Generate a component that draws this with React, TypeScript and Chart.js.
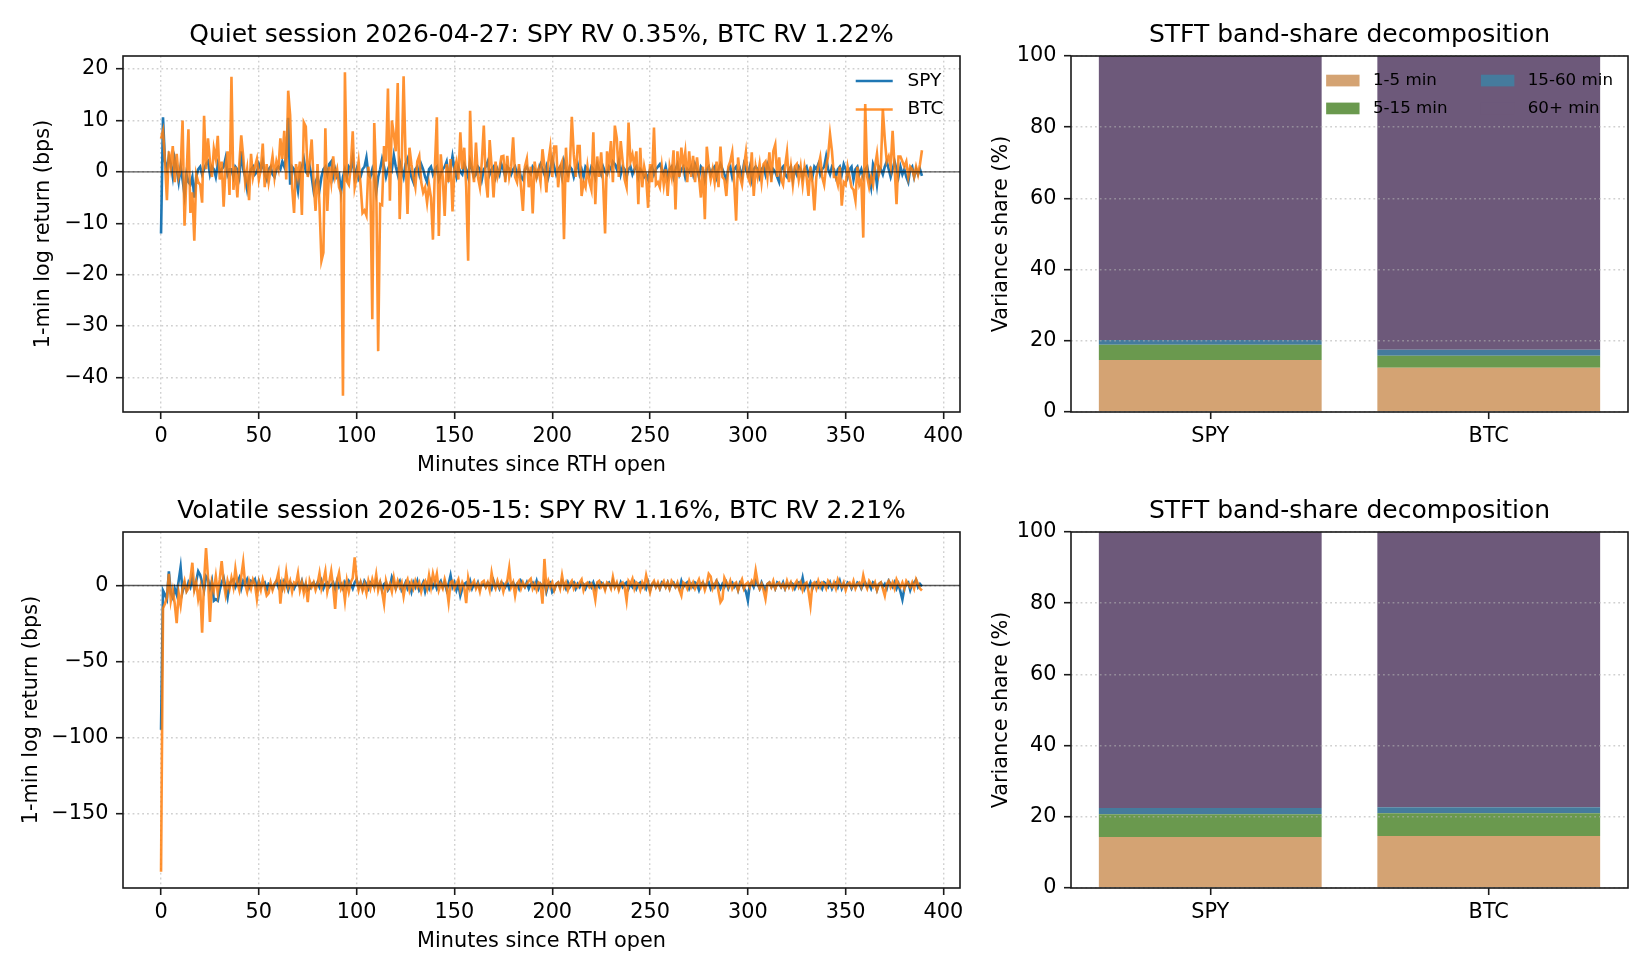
import React, { useEffect, useRef } from "react";
import { Chart, registerables } from "chart.js";

Chart.register(...registerables);

const FONT = "'DejaVu Sans', 'Liberation Sans', sans-serif";

// 1-minute log returns (bps), minute 0..389
const quietSpy = [
  -12, 10.6, 2, 0.5, 3, 1.5, -1, 2.5, 0.5, -2, 1, -1.5, -4.5, -0.5, -2, -2.5, -1, -5, -1, 0.5,
  1, -0.5, 0.5, 1.5, 2, -0.5, 1, 0.5, -1, 1.5, 0, 0.5, 1, 2.7, -0.5, 0.5, 0.5, -1, 1, 0.5,
  -1, 4, 0.5, -1, -3.4, -1, 0.5, 1, -0.5, 0, 1.5, 0.5, 2, -0.5, -1.5, 0.5, 1, -0.5, -1, 0.5,
  1, 0.5, 2, 1, 3, 10.5, -2.5, 1, 0.5, -1.5, -3.7, 0, 1, 2.5, 0, -0.5, 1, -1, -3.7, -2,
  -1, -3.5, -1, 0.5, 1, -0.5, 1.5, 2, -1, 0.5, -1, -0.5, -4, -1, 0.5, -1, 1, 0.5, 2.8, -1,
  0.5, -1.5, -1, 0.5, 1, 2.8, -0.5, -1, 0.5, -1, -4, -1, 0.5, 2.5, 1, -1, 0.5, 1.5, 0.5, 3.2,
  1, -0.5, 2, 0.5, -1, 1.5, 2.5, 0.5, -1, -2, 0.5, 1, -0.5, 1.5, 0.5, -1, -2, 0.5, 1, -0.5,
  0.5, 1, -1.5, -0.5, 0.5, 1, 2, -1, 0.5, 3, 0.5, -1, 1, 0, -0.5, 1.5, 0.5, -1, 2, 0.5,
  -1, -0.5, 1, 0.5, -1.5, 0.5, 1, 2, -0.5, 0.5, 1, -1, 0.5, -0.5, 1.5, 0.5, -1, 1, 0.5, -0.5,
  0.5, 1, -0.5, 0.5, -1, -1.5, 0.5, 1, 0, -0.5, 1, 0.5, -1, 0.5, 1.5, 0.5, -0.5, 1, -1, 0.5,
  2.5, 1, -0.5, 0.5, 1, -1, 2, 0.5, -0.5, 1, 0.5, -1, 0.5, 1.5, -0.5, 0.5, -1, 1, 0.5, -0.5,
  1, 0.5, -1, 1.5, 0.5, -0.5, 1, 0, -0.5, 1, 0.5, 2, 1.5, 0.5, 2, -0.5, 1, 0.5, -1, 0.5,
  1, -0.5, 0.5, 1, -1, 0.5, 0, -1, -0.5, -1.5, 0.5, 1, -0.5, 0.5, 1, 1.5, 0.5, -0.5, 1, -1,
  0.5, 1, -1, 0.5, 1.5, -0.5, 0.5, 1, -1, 0.5, 0, 1, -0.5, 1.5, 0.5, -1, 1, 0.5, -1.5, 0.5,
  1, -0.5, 0.5, 1, -1, 0.5, 1.5, 0.5, -0.5, -1.5, 0.5, 1, -1, 0.5, 1, -0.5, 0.5, -1, 1.5, 0.5,
  -0.5, 1, -1.5, 0.5, 1, 0.5, -1, 0.5, 1, -0.5, 1.5, 0.5, -1, 0.5, 0, -1, -2, 0.5, 1, -0.5,
  -1, 0.5, 1, -1.5, 0.5, -0.5, 1, 0.5, -1, 0.5, 1, -0.5, 0.5, -1, 1, 0.5, 1.5, -0.5, 0.5, 1,
  3, 0.5, -0.5, 1, 0.5, -1, 0.5, 1, -0.5, 1.5, 0.5, -1, 0.5, 1, -1.5, 0.5, 1, -0.5, 0.5, -1,
  0.5, 1, -1, -3, 1.5, 0.5, -2.5, 1, 0.5, -0.5, 1, 2, 0.5, -1, 0.5, 2, 0.5, -1, 1, -0.5,
  0.5, -1, -2, 0.5, 1, -1, 0.5, -0.5, 0.5, -0.8,
];

const quietBtc = [
  6.5, 8, 2, -5.5, 4, 1, 5, -2, 3.5, -1, 0.5, 10, -10.5, -1, 8.3, -8, -4, -13.4, -0.5, -2,
  -2.5, -6, 10.9, 0.5, 6.5, 2, -1, 4.5, 2.5, 7, -1.5, 2, -6.8, 1, 4, -4.5, 18.5, -3.5, 1, -5,
  1.5, 7.1, 3, -2, 0.5, -5.5, 3.5, -1, 1, 2.5, -1.5, 0.5, 5.5, -3, 1.5, -2, 0.5, 3, -1, 2,
  0.5, 6.5, 2.5, 8, -1.5, 15.8, 11, -3, -8, 1.5, -1, 2, -8.4, 9.6, 8.8, -1, 2, 6.3, -2, -7.6,
  1.5, -6.5, -17.3, -15.7, 8.5, -7.6, 1, -2, 3, -1, 0.5, -3, -4, -43.6, 19.4, -1.8, -2.5, 1, 7.9, -3,
  -1, 2, -2.5, -8, -7.5, -8.5, 1, -2, -28.7, 9.5, -2, -34.9, -6.3, -6.5, 5, 2, 16.2, -5.6, 10, 7.3,
  4, 17.3, -9.2, 1, 18.6, 3, -8.2, 4.7, 1.5, -1, -3, 2, 3.1, -2, -4, -3, -6, -2.5, -5, -13.2,
  1, 10.6, -12.5, 3.4, -1, -8.6, 1.5, -2, 2.5, -7.7, 0.5, 2, -1.5, 7.7, 0.5, 4.7, -3, -17.3, 11.9, 1,
  -2, 5.7, -1, -3, 2, 9, -1.5, -5, 6.2, 1, -5, 2, -1, 0.5, 3, 3.1, -2, 3.1, -1, 1,
  6.7, -1, -2, 1.5, -3, -7.6, 1, 2.5, -3, 1, -8.1, 2, -1, 0.5, -2, 4.4, 1, -4, 2, 4.7,
  -1, 4.9, 4.9, -3, 1, 2, -13.1, 4.7, -2, 1, 10.7, 3.4, -1, 5, 5, -4.7, -2, -3, 1, -2,
  -3.5, 7.7, -6.3, 3, -1, 3.8, -2, -12, 4, 1, 6, -2, 9, 6.5, -1, 6, 2, -1.5, -3, 9.6,
  2, 3.4, 1, 4, -6.3, 4.7, -3, 1, -1, -7, 1.5, -2, 8.6, -2.5, -2, -3, 1, -2.5, 0.5, -4.7,
  1, -1, 4.2, -7.3, 4, -1, 4.7, 1, 3.8, -2, 4, -1, 3.1, -2, 2.8, -1, -5, 1, -9.2, 4.9,
  1, -1.5, 0.5, -2, 2, -3, 4.9, -1, -1.5, -4.7, 1, 2, 3.8, -2, -9.5, 2.8, -1, -2.5, 1, 3.8,
  -1, -2, 3.8, -4.7, 1, -1, 1.5, -2, 1.5, 2, -1, 3.8, -2, 4, 5.3, -1, 2.8, -1.5, -2.5, 1,
  3.8, -2, 1, -2.5, 1, 1.5, -1.5, 1, -2.5, 1, -1, -4.7, 1, -2, -7.5, -1, 1, 2.8, -1, -2.5,
  1, 3, 7.3, 4, -1, -1, -2.5, 1, -6.6, -2, -2.5, 1, -1, -3, -3.5, -5.6, 1, -2.5, -1.5, -12.8,
  13.2, -1, -3, -1, -2.5, 1, 3.5, -0.5, 1, 12.2, 6.4, 2, 3, 1, 8, 1, -6.3, 3, 3, 2,
  1, 2, -1, 1, 0.5, -1, 1, -0.5, 1.5, 4.2,
];

const volatileSpy = [
  -95, -3.3, -6, -9, 9.4, -5, -8, -2, -6, 3, 12, -4, 1, -3, 2, -1, 5, -2, 3, 9.4,
  7, 2, -3, 6, 4, -2, 3, -10, -9, -10, -3, 2, 5, -2, -8, 1, 3, 4, -1, 2,
  5, -2, 3, 1, 4, -1, 3, 2, 4, -2, 3, -1, 1, 2, -3, 1, 0, -2, 1, 3,
  -1, 2, -2, 3, 1, -3, 2, 0.5, -2, 1, 2, -1, 3, -2, 1, -3, -2, 1, 2, -1,
  2, -1, 3, -2, 1, 2, -1, 0.5, 2, -2, 3, -1, 1, -2, 2, -1, 3, 1, -2, 2,
  4, -1, 2, -2, 3, 1, -2, 2, 0.5, -1, 3, -1, 2, -3, 1, 2, -3, -1, 5.5, 2,
  -2, 1, 3, -3, -1, 2, -2, 1, -4, 2, -1, 3, -3, -1, 2, -4, 1, -2, 3, -1,
  2, -2, 1, 3, -1, 2, -3, 1, 6.6, -1, 2, -3, 1, -6.6, -2, 1, 2, -1, 3, -2,
  1, -1, 2, -2, 0.5, 1, -1, 2, 1, -2, 3, -1, 1, -2, 2, 1, -1, 2, -2, 1,
  2, -1, 1, -2, 3, 1, -1, 2, -2, 1, 2, -1, 3, -2, 1, -1, 2, -4, 1, 2,
  -4.4, -3, 1, 2, -1, 3, 1, -2, 2, -1, 1, 2, -2, 1, -1, 2, 1, -2, 1, 2,
  -1, 2, -2, 1, -1, 2, 1, -2, 1, 2, -1, 3, -1, 1, -2, 2, -1, 1, 2, -2,
  1, -1, 2, -2, 1, 2, -1, 1, -2, 2, -3, 1, 2, -1, 1, -2, 2, 1, -1, 2,
  -2, 1, 2, -1, 1, -2, 3, -1, 1, 2, -2, 1, -1, 2, 1, -3, 1, 2, -1, 1,
  2, -2, 1, -1, 3, 1, -2, 1, -1, 2, -2, 1, 2, -1, 1, -3, 2, 1, -2, -4,
  -9.9, 1, 2, -1, 3, 1, -2, 2, -1, -3, 1, 2, -1, 1, -2, 2, 1, -1, 2, -2,
  1, -1, 2, 1, -2, 1, 2, -1, 5, -2, 1, -1, 2, -2, 1, 2, -1, 1, -2, 2,
  1, -1, 2, -2, 1, 2, -1, 3, -2, 1, -1, 2, 1, -2, 1, -1, 2, 1, -2, 1,
  2, -1, 1, -2, 2, 1, -3, 1, 2, -1, 1, -2, 3, 1, -1, 2, -2, 1, -4, -9.2,
  -2, 1, 2, -3, 1, 2, 3.7, -1, 1, -0.5,
];

const volatileBtc = [
  -188.6, -15, -12, -8, 7.7, -10, -3, -12, -24.8, -5, -13, -2, 3, -4, -2, 4, 15, -3, 2, -8.8,
  -2, -31, 3, 24.6, 5, -24, 2, -3, 6, -5, 4, 16, 2, -6, 3, -2, 5, -1, 11, 2,
  -3, 6, 15.4, 1, -4, 3, -2, 4, 1, -8.8, 2, -3, 4, -1, -6.6, -5, 2, -3, 1, 3,
  8.3, -12, 2, -2, 8.8, -1, 3, -4, 2, 1, 8, -3, 2, -5, 1, -11, 3, -1, 2, -3,
  1, 8, -2, 3, 9.4, -4, 2, 9.4, -1, -15.4, 3, 8.3, -2, 1, -9.9, 3, -4, 2, 5, 18.6,
  4, -3, 2, -3.3, 1, -5, 3, -2, 4, -1, 7.2, -3, 2, -4, -12, 3, -2, 1, -4, 5,
  -2, 3, -1, 2, -7, 1, 4, -3, 2, -2, 3, -1, 2, -4, 1, 3, -2, 6.6, -1, 7.7,
  2, 7.7, -3, 1, -2, 4, -1, -11, 2, 3, -2, 1, 4, -3, 2, -1, -11.6, 4.8, -2, 1,
  3, -2, 1, -4, 2, 3, -1, 2, -3, 8.3, 1, -2, 3, -1, 2, -4, 1, 3, 11.6, -1,
  2, -6.6, 1, 3, -2, 2, -1, 1, 3, 4.4, -2, 1, -3, 2, 1, -12, 17.5, -2, 3, -1,
  2, -3, 1, 2, -2, 6.6, -1, 2, -3, 1, 3, -2, 1, -1, 2, 4, -3, 1, 2, -1,
  1, -2, -9.2, 2, 3, -1, 1, -3, 2, 1, -2, 5.5, -1, 2, -3, 1, 2, -1, -9.9, 3,
  1, 4.4, -2, 2, 1, -3, 2, -1, 6.6, 1, -4.4, 1, 3, -1, 2, -2, 1, 3, -1, 2,
  -2, 3, 1, -1, 2, -3, -6.6, 2, 1, -2, 3, -1, 2, -2, 1, 4, -1, 2, -3, 1,
  7.7, 6, -2, 1, 3, -4, -11, -9, 5, 2, -1, 3, -2, 1, 2, -3, 1, 4, -2, 1,
  2, -1, 3, 1, 9.9, 2, -2, 1, -3, -8.8, 1, 2, -1, 3, -2, 1, 2, -1, 1, -2,
  3, -1, 2, -2, 1, 3, -1, 2, -3, 1, 2, -4, -13, 1, 2, -2, 3, -1, 2, 1,
  -2, 3, 1, -1, 2, -2, 4, 1, -1, 2, -3, 1, 2, -1, 3, -2, 1, 2, -1, 6.6,
  1, -2, 3, 1, -1, 2, -3, 1, 2, -2, -6.6, 1, 3, -1, 2, -2, 4, 1, -1, 2,
  -2, 3, 1, -1, 2, -2, 4, 1, -2, -3.3,
];

const xTicks = [0, 50, 100, 150, 200, 250, 300, 350, 400];
const quietYTicks = [-40, -30, -20, -10, 0, 10, 20];
const volatileYTicks = [-150, -100, -50, 0];

// STFT band shares of variance (%)
const assets = ["SPY", "BTC"];
const bands = ["1-5 min", "5-15 min", "15-60 min", "60+ min"];
const bandColors = ["#d4a373", "#6a994e", "#457b9d", "#6d597a"];
const quietSpyShares = [14.6, 4.3, 1.3, 79.8];
const quietBtcShares = [12.4, 3.4, 1.7, 82.5];
const volatileSpyShares = [14.3, 6.4, 1.8, 77.5];
const volatileBtcShares = [14.6, 6.4, 1.7, 77.3];

const SPY_COLOR = "#1f77b4";
const BTC_COLOR = "rgba(255,127,14,0.85)";
const LINE_W = 2.6;
const INK = "#000";
const SPINE = "#1a1a1a";

const tickFont = { family: FONT, size: 20.8 };
const labelFont = { family: FONT, size: 20.8 };
const titleFont = { family: FONT, size: 25, weight: "normal" as const };

const gridStyle = {
  color: "rgba(176,176,176,0.6)",
  lineWidth: 1.4,
  tickLength: 7,
  tickWidth: 1.6,
  tickColor: SPINE,
};
const gridBorder = { display: false, dash: [1.8, 3] };

const fmt = (v: number) => (v < 0 ? "\u2212" + Math.abs(v) : String(v));

// matplotlib-style full box around the plot area
const framePlugin = {
  id: "frame",
  afterDraw(chart: any) {
    const { ctx, chartArea: a } = chart;
    ctx.save();
    ctx.strokeStyle = SPINE;
    ctx.lineWidth = 1.6;
    ctx.strokeRect(a.left, a.top, a.right - a.left, a.bottom - a.top);
    ctx.restore();
  },
};

const zeroLinePlugin = {
  id: "zeroLine",
  afterDatasetsDraw(chart: any) {
    const { ctx, chartArea: a, scales } = chart;
    const y = scales.y.getPixelForValue(0);
    ctx.save();
    ctx.strokeStyle = "rgba(0,0,0,0.65)";
    ctx.lineWidth = 1.4;
    ctx.beginPath();
    ctx.moveTo(a.left, y);
    ctx.lineTo(a.right, y);
    ctx.stroke();
    ctx.restore();
  },
};

const seriesLegendPlugin = {
  id: "seriesLegend",
  afterDraw(chart: any) {
    const { ctx, chartArea: a } = chart;
    const fs = 18.5;
    const items = [
      { label: "SPY", color: SPY_COLOR },
      { label: "BTC", color: BTC_COLOR },
    ];
    ctx.save();
    ctx.font = `${fs}px ${FONT}`;
    ctx.textBaseline = "middle";
    const textW = Math.max(...items.map((it) => ctx.measureText(it.label).width));
    const textX = a.right - 0.9 * fs - textW;
    const h1 = textX - 0.8 * fs;
    const h0 = h1 - 2 * fs;
    items.forEach((it, i) => {
      const y = a.top + 1.35 * fs + i * 1.54 * fs;
      ctx.strokeStyle = it.color;
      ctx.lineWidth = LINE_W;
      ctx.beginPath();
      ctx.moveTo(h0, y);
      ctx.lineTo(h1, y);
      ctx.stroke();
      ctx.fillStyle = INK;
      ctx.fillText(it.label, textX, y);
    });
    ctx.restore();
  },
};

const bandLegendPlugin = {
  id: "bandLegend",
  afterDraw(chart: any) {
    const { ctx, chartArea: a } = chart;
    const fs = 16.7;
    const cols = [
      [0, 1],
      [2, 3],
    ];
    ctx.save();
    ctx.font = `${fs}px ${FONT}`;
    ctx.textBaseline = "middle";
    const colW = cols.map((c) => Math.max(...c.map((k) => ctx.measureText(bands[k]).width)));
    const starts: number[] = [];
    let x = a.right - 0.9 * fs;
    for (let c = cols.length - 1; c >= 0; c--) {
      starts[c] = x - colW[c];
      x = starts[c] - 0.8 * fs - 2 * fs - 2 * fs;
    }
    cols.forEach((c, ci) =>
      c.forEach((k, ri) => {
        const y = a.top + 1.47 * fs + ri * 1.67 * fs;
        const hx = starts[ci] - 0.8 * fs - 2 * fs;
        ctx.fillStyle = bandColors[k];
        ctx.fillRect(hx, y - 0.35 * fs, 2 * fs, 0.7 * fs);
        ctx.fillStyle = INK;
        ctx.fillText(bands[k], starts[ci], y);
      })
    );
    ctx.restore();
  },
};

function chartTitle(text: string) {
  return {
    display: true,
    text,
    fullSize: false,
    font: titleFont,
    color: INK,
    padding: { top: 20, bottom: 6 },
  };
}

function lineConfig(title: string, spy: number[], btc: number[], yTicks: number[], yTitlePad: number, legend: boolean) {
  const all = spy.concat(btc);
  const lo = Math.min(...all);
  const hi = Math.max(...all);
  const yPad = (hi - lo) * 0.05;
  const n = spy.length;
  const xPad = (n - 1) * 0.05;
  return {
    type: "line",
    data: {
      datasets: [
        {
          label: "SPY",
          data: spy.map((v, i) => ({ x: i, y: v })),
          borderColor: SPY_COLOR,
          borderWidth: LINE_W,
          pointRadius: 0,
          tension: 0,
          order: 2,
        },
        {
          label: "BTC",
          data: btc.map((v, i) => ({ x: i, y: v })),
          borderColor: BTC_COLOR,
          borderWidth: LINE_W,
          pointRadius: 0,
          tension: 0,
          order: 1,
        },
      ],
    },
    options: {
      responsive: false,
      animation: false,
      events: [],
      layout: { padding: { left: 0, right: 20, top: 0, bottom: 0 } },
      plugins: {
        legend: { display: false },
        tooltip: { enabled: false },
        title: chartTitle(title),
      },
      scales: {
        x: {
          type: "linear",
          min: -xPad,
          max: n - 1 + xPad,
          afterBuildTicks: (s: any) => {
            s.ticks = xTicks.map((v) => ({ value: v }));
          },
          afterFit: (s: any) => {
            s.height = 75;
          },
          ticks: { font: tickFont, color: INK, padding: 5, maxRotation: 0, autoSkip: false, callback: (v: number) => fmt(v) },
          grid: gridStyle,
          border: gridBorder,
          title: { display: true, text: "Minutes since RTH open", font: labelFont, color: INK, padding: { top: 0, bottom: 9 } },
        },
        y: {
          type: "linear",
          min: lo - yPad,
          max: hi + yPad,
          afterBuildTicks: (s: any) => {
            s.ticks = yTicks.map((v) => ({ value: v }));
          },
          afterFit: (s: any) => {
            s.width = 123;
          },
          ticks: { font: tickFont, color: INK, padding: 7.6, autoSkip: false, callback: (v: number) => fmt(v) },
          grid: gridStyle,
          border: gridBorder,
          title: { display: true, text: "1-min log return (bps)", font: labelFont, color: INK, padding: { top: yTitlePad, bottom: 0 } },
        },
      },
    },
    plugins: legend ? [zeroLinePlugin, framePlugin, seriesLegendPlugin] : [zeroLinePlugin, framePlugin],
  };
}

function barConfig(spyShares: number[], btcShares: number[], legend: boolean) {
  return {
    type: "bar",
    data: {
      labels: assets,
      datasets: bands.map((b, k) => ({
        label: b,
        data: [spyShares[k], btcShares[k]],
        backgroundColor: bandColors[k],
        borderWidth: 0,
        barPercentage: 0.8,
        categoryPercentage: 1,
      })),
    },
    options: {
      responsive: false,
      animation: false,
      events: [],
      layout: { padding: { left: 0, right: 22, top: 0, bottom: 0 } },
      plugins: {
        legend: { display: false },
        tooltip: { enabled: false },
        title: chartTitle("STFT band-share decomposition"),
      },
      scales: {
        x: {
          stacked: true,
          offset: true,
          afterFit: (s: any) => {
            s.height = 75;
          },
          ticks: { font: tickFont, color: INK, padding: 5, maxRotation: 0 },
          grid: { ...gridStyle, offset: false, drawOnChartArea: false },
          border: { display: false },
        },
        y: {
          stacked: true,
          min: 0,
          max: 100,
          afterFit: (s: any) => {
            s.width = 91;
          },
          ticks: { font: tickFont, color: INK, padding: 7.6, stepSize: 20, callback: (v: number) => fmt(v) },
          grid: { ...gridStyle, z: 1 },
          border: gridBorder,
          title: { display: true, text: "Variance share (%)", font: labelFont, color: INK, padding: { top: 9.5, bottom: 0 } },
        },
      },
    },
    plugins: legend ? [framePlugin, bandLegendPlugin] : [framePlugin],
  };
}

const buildQuietLine = () =>
  lineConfig("Quiet session 2026-04-27: SPY RV 0.35%, BTC RV 1.22%", quietSpy, quietBtc, quietYTicks, 31.5, true);
const buildVolatileLine = () =>
  lineConfig("Volatile session 2026-05-15: SPY RV 1.16%, BTC RV 2.21%", volatileSpy, volatileBtc, volatileYTicks, 19.5, false);
const buildQuietBars = () => barConfig(quietSpyShares, quietBtcShares, true);
const buildVolatileBars = () => barConfig(volatileSpyShares, volatileBtcShares, false);

interface PanelProps {
  left: number;
  top: number;
  width: number;
  height: number;
  build: () => any;
}

const Panel: React.FC<PanelProps> = ({ left, top, width, height, build }) => {
  const canvasRef = useRef<HTMLCanvasElement | null>(null);

  useEffect(() => {
    if (!canvasRef.current) return;
    const chart = new Chart(canvasRef.current, build());
    return () => {
      chart.destroy();
    };
  }, [build]);

  return (
    <canvas
      ref={canvasRef}
      width={width}
      height={height}
      style={{ position: "absolute", left, top, width, height }}
    />
  );
};

export default function App() {
  return (
    <div
      style={{
        position: "absolute",
        left: 0,
        top: 0,
        width: 1650,
        height: 975,
        background: "#fff",
        overflow: "hidden",
      }}
    >
      <Panel left={0} top={0} width={980} height={487} build={buildQuietLine} />
      <Panel left={980} top={0} width={670} height={487} build={buildQuietBars} />
      <Panel left={0} top={476} width={980} height={487} build={buildVolatileLine} />
      <Panel left={980} top={476} width={670} height={487} build={buildVolatileBars} />
    </div>
  );
}
